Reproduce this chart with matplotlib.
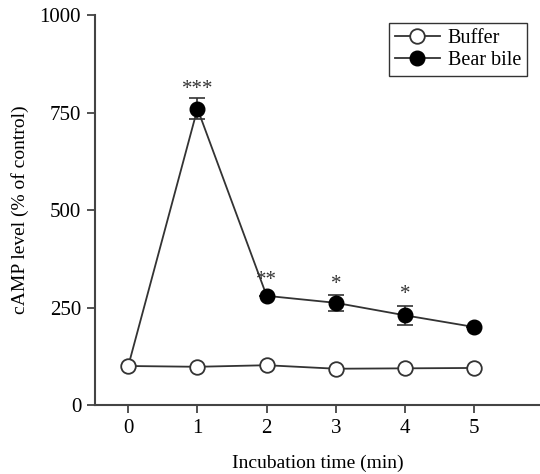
import numpy as np
import matplotlib.pyplot as plt

plt.rcParams['font.family'] = ['Liberation Serif', 'DejaVu Serif']

time = [0, 1, 2, 3, 4, 5]
buffer_vals = [100, 98, 102, 93, 94, 95]
bile_vals = [100, 760, 280, 262, 230, 200]
bile_err = [0, 27, 0, 20, 24, 0]
stars = ['', '***', '**', '*', '*', '']
star_y = [0, 810, 320, 308, 284, 0]

fig = plt.figure(figsize=(5.4, 4.74), dpi=100)
ax = fig.add_axes([0.176, 0.1456, 0.824, 0.8224])

lc = '#333333'
# bear bile line starts from the shared baseline at t=0
ax.plot(time, bile_vals, color=lc, lw=1.3, zorder=2)
ax.errorbar(time[1:], bile_vals[1:], yerr=bile_err[1:], fmt='o', color='black',
            ms=10.5, ecolor=lc, elinewidth=1.2, capsize=6, capthick=1.2, zorder=3)
ax.plot(time, buffer_vals, color=lc, lw=1.3, marker='o', ms=10.5,
        mfc='white', mec=lc, mew=1.3, zorder=4)

for t, s, y in zip(time, stars, star_y):
    if s:
        ax.text(t, y, s, ha='center', va='center', fontsize=15, color='#333333')

# legend proxies
h1, = ax.plot([], [], color=lc, lw=1.3, marker='o', ms=10.5, mfc='white', mec=lc, mew=1.3)
h2, = ax.plot([], [], color=lc, lw=1.3, marker='o', ms=10.5, mfc='black', mec='black')
leg = ax.legend([h1, h2], ['Buffer', 'Bear bile'], loc='upper right',
                bbox_to_anchor=(0.98, 0.99), fontsize=14.5, frameon=True,
                fancybox=False, edgecolor='black', handlelength=2.2,
                borderpad=0.3, labelspacing=0.12, handletextpad=0.4,
                borderaxespad=0.2)
leg.get_frame().set_linewidth(1.0)

ax.set_xlim(-0.48, 5.95)
ax.set_ylim(0, 1000)
ax.set_xticks(time)
ax.set_yticks([0, 250, 500, 750, 1000])
ax.spines['top'].set_visible(False)
ax.spines['right'].set_visible(False)
for sp in ['left', 'bottom']:
    ax.spines[sp].set_color('#444444')
    ax.spines[sp].set_linewidth(1.5)
ax.tick_params(direction='out', length=6, width=1.3, color='#444444',
               labelsize=15, pad=4)
ax.set_xlabel('Incubation time (min)', fontsize=14, labelpad=12)
ax.set_ylabel('cAMP level (% of control)', fontsize=14, labelpad=8)

fig.savefig('out.png', dpi=100)
